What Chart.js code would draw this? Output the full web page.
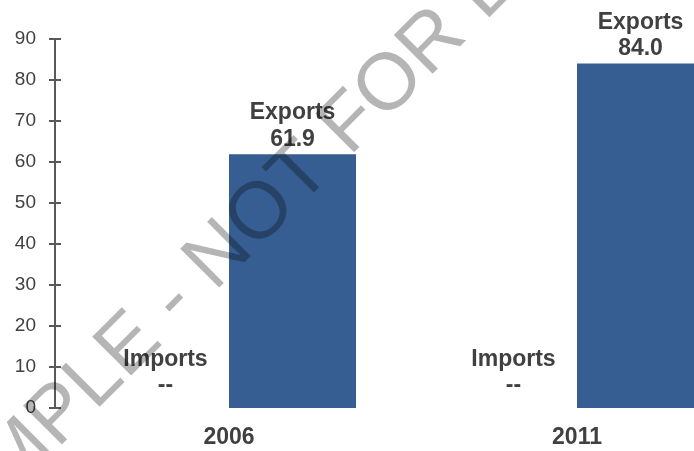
<!DOCTYPE html>
<html><head><meta charset="utf-8">
<script src="https://cdn.jsdelivr.net/npm/chart.js@4"></script>
<style>
html,body{margin:0;padding:0;background:#fff;overflow:hidden}
#wrap{width:694px;height:451px;overflow:hidden;position:relative;background:#fff}
canvas{display:block}
</style></head><body>
<div id="wrap"><canvas id="c" width="762" height="451"></canvas></div>
<script>
const categories = ['2006', '2011'];
const seriesNames = ['Imports', 'Exports'];
const importsValues = [null, null];   // no data, shown as "--"
const exportsValues = [61.9, 84.0];
const yTickValues = [0, 10, 20, 30, 40, 50, 60, 70, 80, 90];
const watermarkText = 'SAMPLE - NOT FOR DISTRIBUTION';

const FONT = '"Liberation Sans", Arial, Helvetica, sans-serif';
const TEXT = '#404040';
const AXIS = '#595959';
const BAR = '#365E92';

const labelPlugin = {
  id: 'barLabels',
  afterDatasetsDraw(chart) {
    const ctx = chart.ctx;
    const y0 = chart.scales.y.getPixelForValue(0);
    ctx.save();
    ctx.font = 'bold 23px ' + FONT;
    ctx.fillStyle = TEXT;
    ctx.textAlign = 'center';
    ctx.textBaseline = 'alphabetic';
    chart.data.datasets.forEach((ds, di) => {
      const meta = chart.getDatasetMeta(di);
      meta.data.forEach((el, i) => {
        const v = ds.data[i];
        const base = (v == null) ? y0 - 16 : el.y - 8.5;
        const txt = (v == null) ? '--' : v.toFixed(1);
        ctx.fillText(txt, el.x, base);
        ctx.fillText(ds.label, el.x, base - 26.5);
      });
    });
    ctx.restore();
  }
};

const tickMarkPlugin = {
  id: 'crossTicks',
  afterDraw(chart) {
    const ys = chart.scales.y;
    const ctx = chart.ctx;
    const x = chart.chartArea.left;
    ctx.save();
    ctx.strokeStyle = AXIS;
    ctx.lineWidth = 2;
    ys.ticks.forEach(t => {
      const py = Math.round(ys.getPixelForValue(t.value));
      ctx.beginPath();
      ctx.moveTo(x - 6, py);
      ctx.lineTo(x + 6, py);
      ctx.stroke();
    });
    ctx.restore();
  }
};

const watermarkPlugin = {
  id: 'watermark',
  afterDraw(chart) {
    const ctx = chart.ctx;
    const size = 80;
    ctx.save();
    ctx.translate(174, 302);
    ctx.rotate(-45 * Math.PI / 180);
    ctx.font = size + 'px ' + FONT;
    ctx.fillStyle = 'rgba(0,0,0,0.29)';
    ctx.textAlign = 'left';
    ctx.textBaseline = 'alphabetic';
    const pre = ctx.measureText('SAMPLE ').width;
    const dash = ctx.measureText('-').width;
    ctx.fillText(watermarkText, -(pre + dash / 2), 0.27 * size);
    ctx.restore();
  }
};

new Chart(document.getElementById('c'), {
  type: 'bar',
  data: {
    labels: categories,
    datasets: [
      { label: seriesNames[0], data: importsValues, backgroundColor: BAR, borderWidth: 0 },
      { label: seriesNames[1], data: exportsValues, backgroundColor: BAR, borderWidth: 0 }
    ]
  },
  options: {
    responsive: false,
    animation: false,
    devicePixelRatio: 1,
    layout: { padding: { top: 39, right: 11, left: 0, bottom: 0 } },
    plugins: { legend: { display: false }, tooltip: { enabled: false }, title: { display: false } },
    datasets: { bar: { categoryPercentage: 0.73, barPercentage: 1.0 } },
    scales: {
      x: {
        grid: { display: false, drawTicks: false },
        border: { display: false },
        ticks: { padding: 16, color: TEXT, font: { family: FONT, size: 23, weight: 'bold' } },
        afterFit: s => { s.height = 43; }
      },
      y: {
        min: 0, max: 90,
        afterBuildTicks: s => { s.ticks = yTickValues.map(v => ({ value: v })); },
        grid: { display: false, drawTicks: false },
        border: { display: true, color: AXIS, width: 2 },
        ticks: { padding: 19, color: TEXT, font: { family: FONT, size: 19 } },
        afterFit: s => { s.width = 55; }
      }
    }
  },
  plugins: [labelPlugin, tickMarkPlugin, watermarkPlugin]
});
</script>
</body></html>
